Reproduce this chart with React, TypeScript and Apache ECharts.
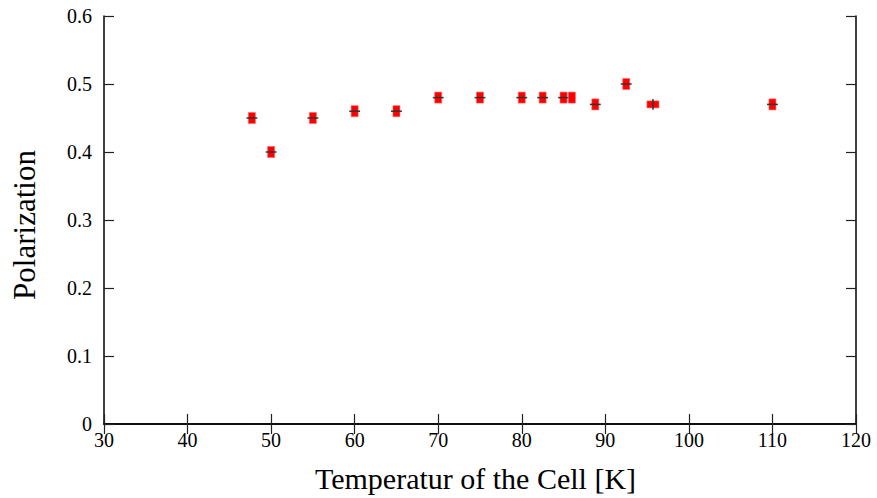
import React, { useEffect, useRef } from "react";
import * as echarts from "echarts";

const temperatures = [47.7, 50, 55, 60, 65, 70, 75, 80, 82.5, 85, 86, 88.8, 92.5, 95.7, 110];
const polarizations = [0.45, 0.4, 0.45, 0.46, 0.46, 0.48, 0.48, 0.48, 0.48, 0.48, 0.48, 0.47, 0.5, 0.47, 0.47];
const temperatureErrors = [0.65, 0.65, 0.65, 0.65, 0.65, 0.65, 0.65, 0.65, 0.65, 0.65, 0, 0.65, 0.65, 0, 0.65];
const polarizationErrors = [0, 0, 0, 0, 0, 0, 0, 0, 0, 0, 0, 0, 0, 0.008, 0];

const xTicks = [30, 40, 50, 60, 70, 80, 90, 100, 110, 120];
const yTicks = [0, 0.1, 0.2, 0.3, 0.4, 0.5, 0.6];

const FONT = "Liberation Serif";

export default function App() {
  const ref = useRef<HTMLDivElement>(null);

  useEffect(() => {
    if (!ref.current) return;
    const chart = echarts.init(ref.current, null, { renderer: "svg" });
    const data = temperatures.map((t, i) => [
      t,
      polarizations[i],
      temperatureErrors[i],
      polarizationErrors[i],
    ]);

    const axisCommon = {
      type: "value" as const,
      axisLine: { show: true, lineStyle: { color: "#000", width: 1.5 } },
      axisTick: { show: true, inside: true, length: 10, lineStyle: { color: "#222", width: 1.2 } },
      splitLine: { show: false },
    };

    chart.setOption({
      animation: false,
      backgroundColor: "#fff",
      grid: { left: 104, right: 21, top: 16, bottom: 71, containLabel: false },
      xAxis: [
        {
          ...axisCommon,
          position: "bottom",
          min: xTicks[0],
          max: xTicks[xTicks.length - 1],
          interval: 10,
          axisLabel: { show: true, color: "#000", fontFamily: FONT, fontSize: 20, margin: 6 },
          name: "Temperatur of the Cell [K]",
          nameLocation: "middle",
          nameGap: 39,
          nameTextStyle: { color: "#000", fontFamily: FONT, fontSize: 30, padding: [0, 9, 0, 0] },
        },
        {
          ...axisCommon,
          position: "top",
          min: xTicks[0],
          max: xTicks[xTicks.length - 1],
          interval: 10,
          axisLabel: { show: false },
        },
      ],
      yAxis: [
        {
          ...axisCommon,
          position: "left",
          min: yTicks[0],
          max: yTicks[yTicks.length - 1],
          interval: 0.1,
          axisLabel: { show: true, color: "#000", fontFamily: FONT, fontSize: 20, margin: 12 },
          name: "Polarization",
          nameLocation: "middle",
          nameRotate: 90,
          nameGap: 64,
          nameTextStyle: { color: "#000", fontFamily: FONT, fontSize: 31, padding: [0, 10, 0, 0] },
        },
        {
          ...axisCommon,
          position: "right",
          min: yTicks[0],
          max: yTicks[yTicks.length - 1],
          interval: 0.1,
          axisLabel: { show: false },
        },
      ],
      series: [
        {
          type: "custom",
          xAxisIndex: 0,
          yAxisIndex: 0,
          data,
          renderItem: (params: any, api: any) => {
            const x = api.value(0);
            const y = api.value(1);
            const xe = api.value(2);
            const ye = api.value(3);
            const c = api.coord([x, y]);
            const children: any[] = [];
            const vertical = ye > 0;
            const w = vertical ? 12 : 7;
            const h = vertical ? 7 : 11;
            children.push({
              type: "rect",
              shape: { x: c[0] - w / 2, y: c[1] - h / 2, width: w, height: h },
              style: { fill: "#ff0000", stroke: "#ff6060", lineWidth: 0.6 },
            });
            if (xe > 0) {
              const l = api.coord([x - xe, y]);
              const r = api.coord([x + xe, y]);
              children.push({
                type: "line",
                shape: { x1: l[0], y1: c[1], x2: r[0], y2: c[1] },
                style: { stroke: "#333", lineWidth: 1.5 },
              });
            }
            if (ye > 0) {
              const t = api.coord([x, y + ye]);
              const b = api.coord([x, y - ye]);
              children.push({
                type: "line",
                shape: { x1: c[0], y1: t[1], x2: c[0], y2: b[1] },
                style: { stroke: "#333", lineWidth: 1.5 },
              });
            }
            return { type: "group", children };
          },
        },
      ],
    });
    return () => chart.dispose();
  }, []);

  return (
    <div
      ref={ref}
      style={{ position: "fixed", left: 0, top: 0, width: 877, height: 498, background: "#fff" }}
    />
  );
}
